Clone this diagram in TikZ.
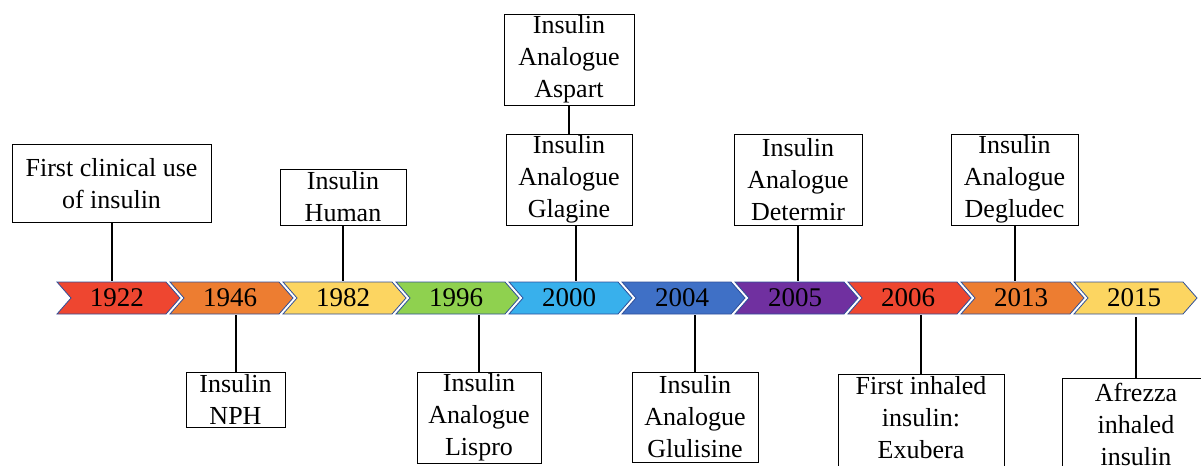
\documentclass[tikz,border=0pt]{standalone}
\usepackage{fontspec}
\setmainfont{Liberation Serif}
\definecolor{cred}{HTML}{EE4630}
\definecolor{corange}{HTML}{ED7D31}
\definecolor{cyellow}{HTML}{FCD561}
\definecolor{cgreen}{HTML}{8FD14F}
\definecolor{clblue}{HTML}{38B0EC}
\definecolor{cblue}{HTML}{3F70C6}
\definecolor{cpurple}{HTML}{7030A0}
\definecolor{cedge}{HTML}{2F4F9A}

\begin{document}
\begin{tikzpicture}[x=0.5pt, y=-0.5pt, thick,
    event/.style = {draw, line width=0.5pt, inner sep=0pt, align=center,
        font=\fontsize{13}{16}\selectfont},
    year/.style = {inner sep=0pt, minimum width=50pt, minimum height=16pt,
        font=\fontsize{13.5}{15}\selectfont}]
\useasboundingbox (0,0) rectangle (1201,466);
\clip (0,0) rectangle (1201,466);
% timeline arrows
\foreach \i/\yr/\col in {0/1922/cred, 1/1946/corange, 2/1982/cyellow, 3/1996/cgreen,
    4/2000/clblue, 5/2004/cblue, 6/2005/cpurple, 7/2006/cred, 8/2013/corange, 9/2015/cyellow} {
    \pgfmathsetmacro{\xo}{57+113*\i}
    \draw[fill=\col, draw=cedge, line width=0.4pt] (\xo,282) -- ++(109,0) -- ++(14,16)
        -- ++(-14,16) -- ++(-109,0) -- ++(14,-16) -- cycle;
    \node[year] (y\yr) at (\xo+60,298) {\yr};
}
% events above
\node[event, minimum width=99.5pt, minimum height=39pt] (first) at (111.5,183.5) {First clinical use\\of insulin};
\node[event, minimum width=63pt, minimum height=28pt] (human) at (343,197) {Insulin\\Human};
\node[event, minimum width=65pt, minimum height=45.5pt] (aspart) at (569,59.5) {Insulin\\Analogue\\Aspart};
\node[event, minimum width=63pt, minimum height=45.5pt] (glagine) at (569,179.5) {Insulin\\Analogue\\Glagine};
\node[event, minimum width=64pt, minimum height=45.5pt] (determir) at (798,179.5) {Insulin\\Analogue\\Determir};
\node[event, minimum width=63.5pt, minimum height=45.5pt] (degludec) at (1014.5,179.5) {Insulin\\Analogue\\Degludec};
% events below
\node[event, minimum width=49.5pt, minimum height=27.5pt] (nph) at (235.5,399.5) {Insulin\\NPH};
\node[event, minimum width=62pt, minimum height=45.5pt] (lispro) at (479,417.5) {Insulin\\Analogue\\Lispro};
\node[event, minimum width=63pt, minimum height=45pt] (glulisine) at (695,417) {Insulin\\Analogue\\Glulisine};
\node[event, minimum width=83pt, minimum height=50pt, text depth=7pt] (exubera) at (921,424) {First inhaled\\insulin:\\Exubera};
\node[event, minimum width=74pt, minimum height=50pt, text depth=4pt] (afrezza) at (1136,428) {Afrezza\\inhaled\\insulin};
% connectors
\path[draw, line width=1pt]
    (first) -- (first.south |- y1922.north)
    (human) -- (human.south |- y1982.north)
    (aspart) -- (glagine)
    ([xshift=3.5pt]glagine.south) -- ([xshift=3.5pt]glagine.south |- y2000.north)
    (determir) -- (determir.south |- y2005.north)
    (degludec) -- (degludec.south |- y2013.north)
    (nph) -- (nph.north |- y1946.south)
    (lispro) -- (lispro.north |- y1996.south)
    (glulisine) -- (glulisine.north |- y2004.south)
    (exubera) -- (exubera.north |- y2006.south)
    (afrezza.north) -- ([yshift=-1pt]afrezza.north |- y2015.south);
\end{tikzpicture}
\end{document}
